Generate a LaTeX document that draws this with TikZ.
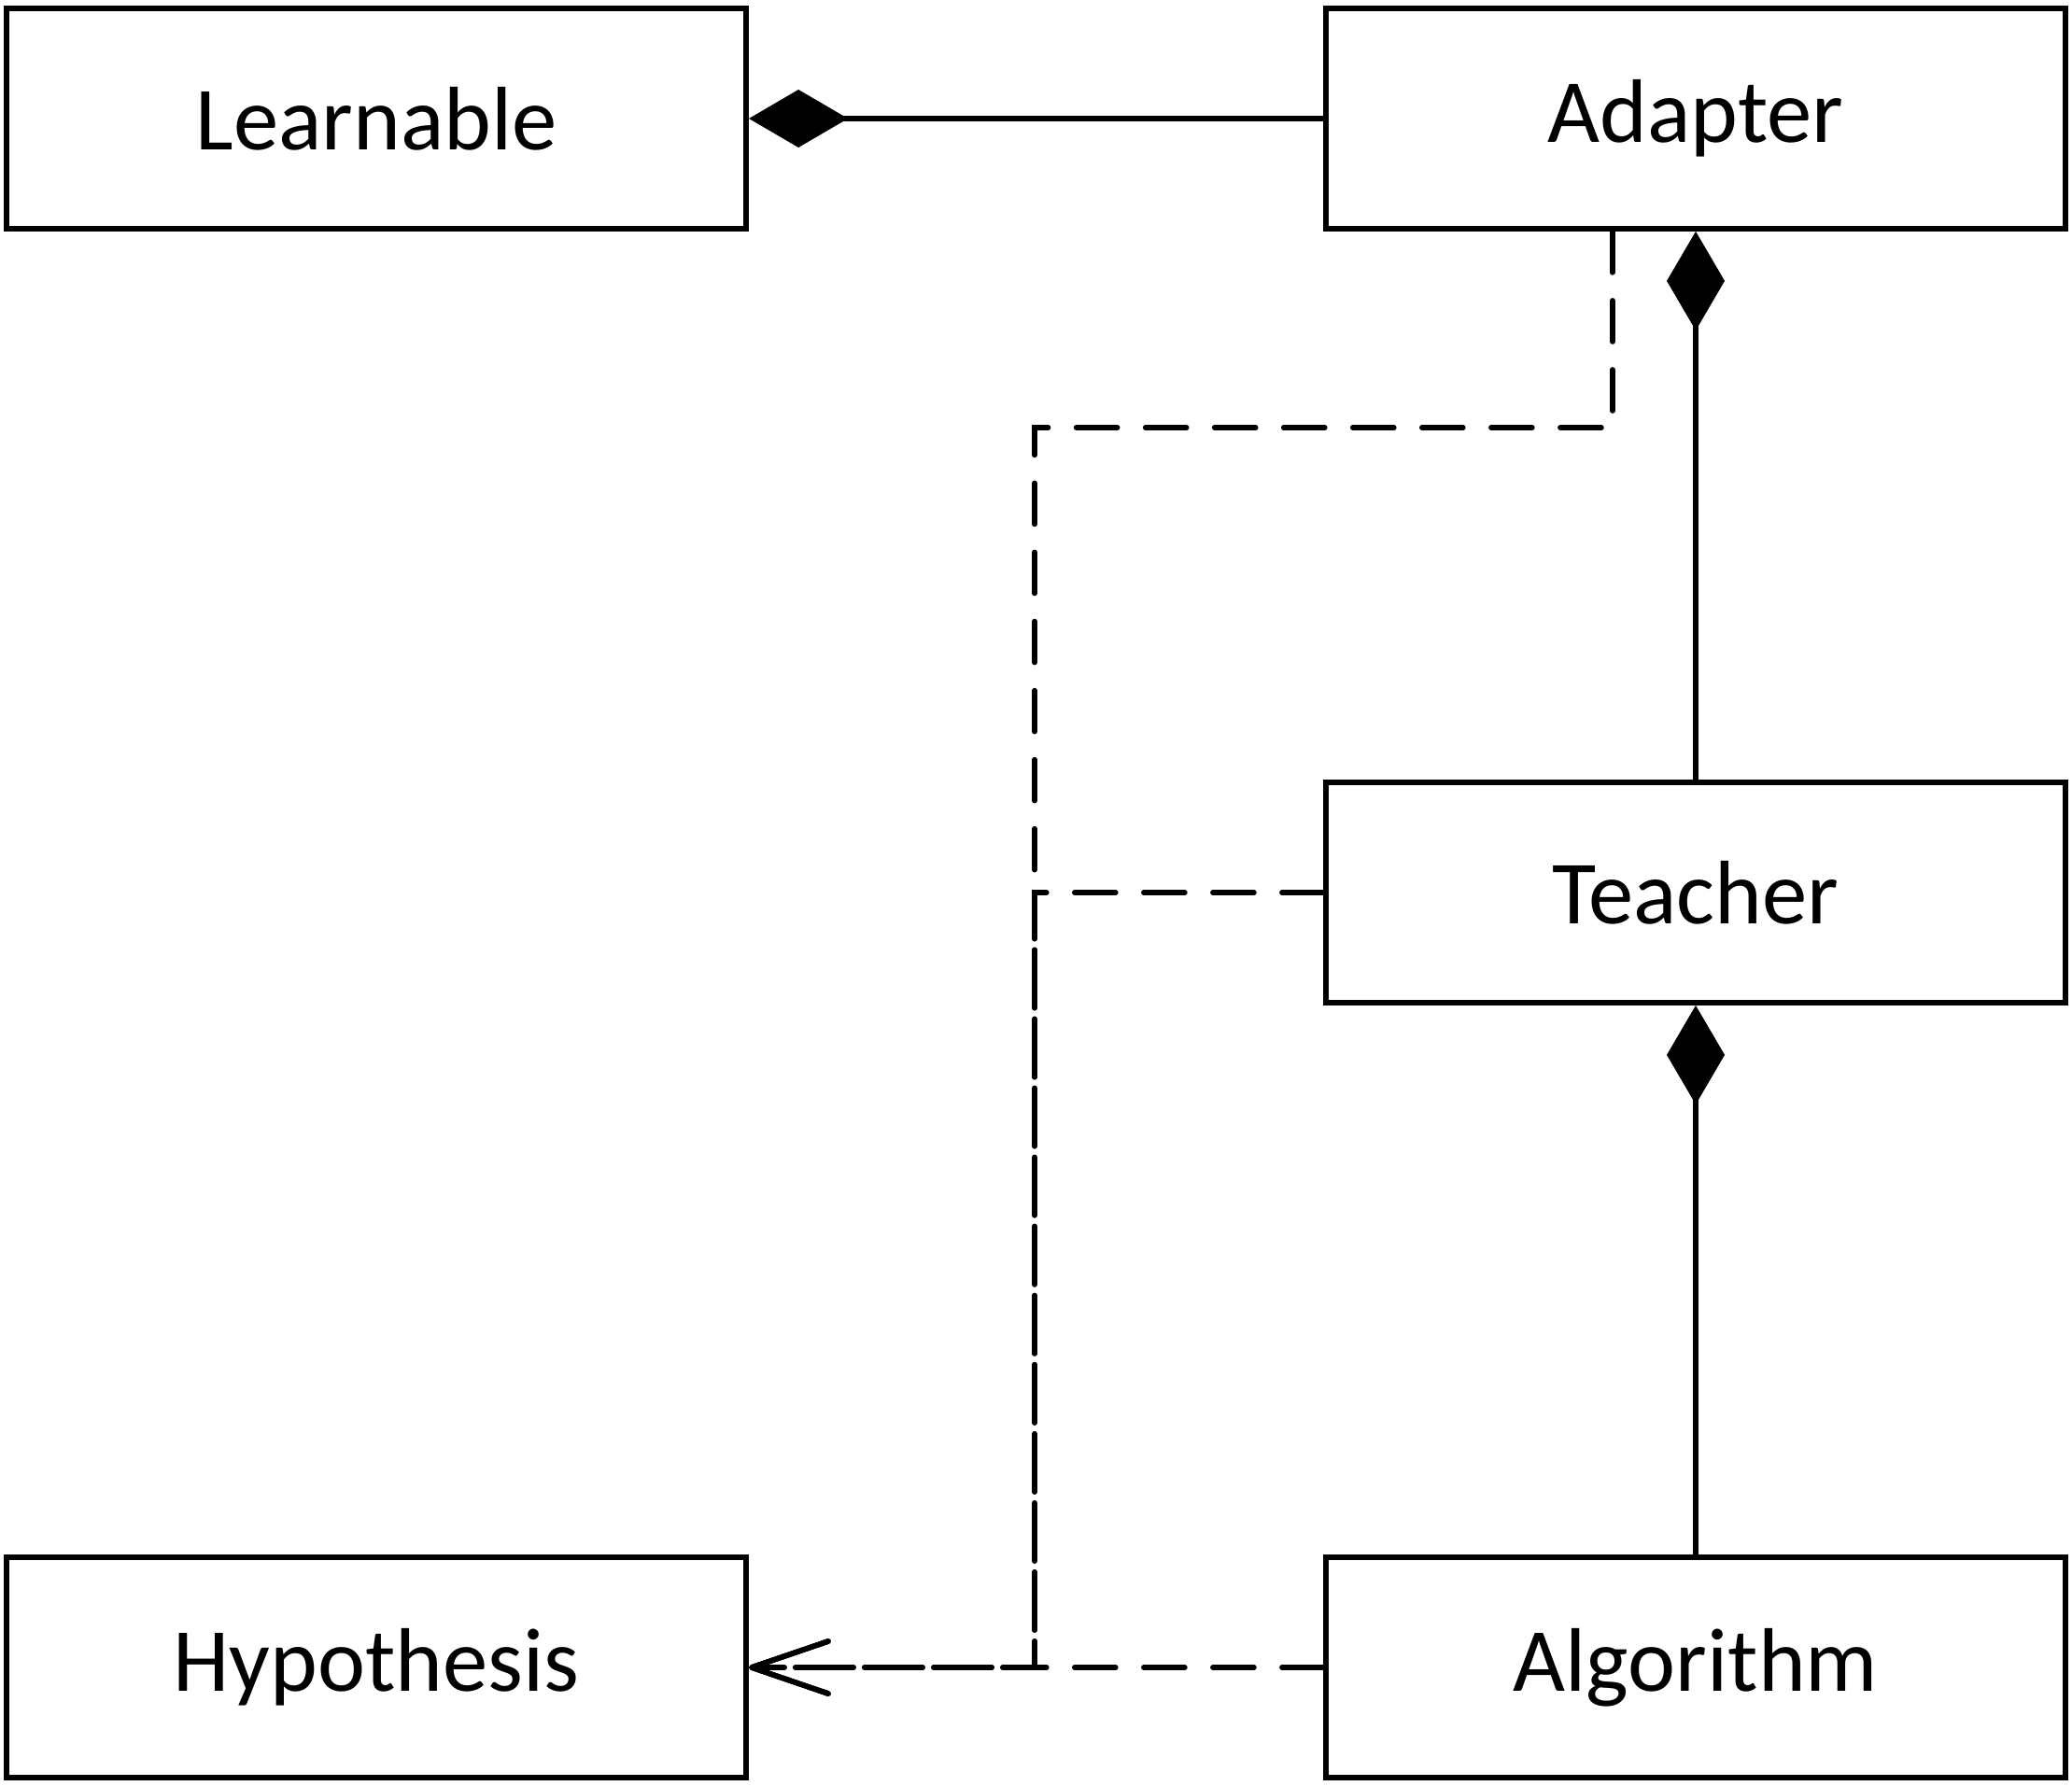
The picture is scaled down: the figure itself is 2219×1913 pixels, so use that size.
\documentclass[tikz,border=0pt]{standalone}
\usepackage{fontspec}
\setmainfont{Carlito}
\usetikzlibrary{arrows.meta}

\begin{document}
\begin{tikzpicture}[x=0.01cm, y=-0.01cm, line width=1.6pt,
	every node/.style ={shape=rectangle, draw, align=center, minimum width=7.92cm, minimum height=2.36cm, font=\fontsize{27.5}{33}\selectfont},
	comp/.style={{Diamond[length=1.06cm,width=0.62cm]}-},
	dep/.style={line cap=round, dash pattern=on 0.44cm off 0.3cm, -{Straight Barb[length=0.82cm,width=0.56cm,round]}}]
	\useasboundingbox (0,0) rectangle (2219,1913);
	\node (Learnable) at (403,127){Learnable};
	\node (Adapter) at (1816,127){Adapter};
	\node (Teacher) at (1816,956){Teacher};
	\node (Hypothesis) at (403,1786){Hypothesis};
	\node (Algorithm) at (1816,1786){Algorithm};
	\coordinate (bend) at (1108,458);
	% composition
	\draw[comp] (Learnable) -- (Adapter);
	\draw[comp] (Adapter) -- (Teacher);
	\draw[comp] (Teacher) -- (Algorithm);
	% dependencies
	\draw[dep] ([xshift=-0.89cm]Adapter.south) |- (bend) |- (Hypothesis.east);
	\draw[dep] (Teacher.west) -| (bend |- Hypothesis.east) -- (Hypothesis.east);
	\draw[dep] (Algorithm) -- (Hypothesis);
\end{tikzpicture}
\end{document}
